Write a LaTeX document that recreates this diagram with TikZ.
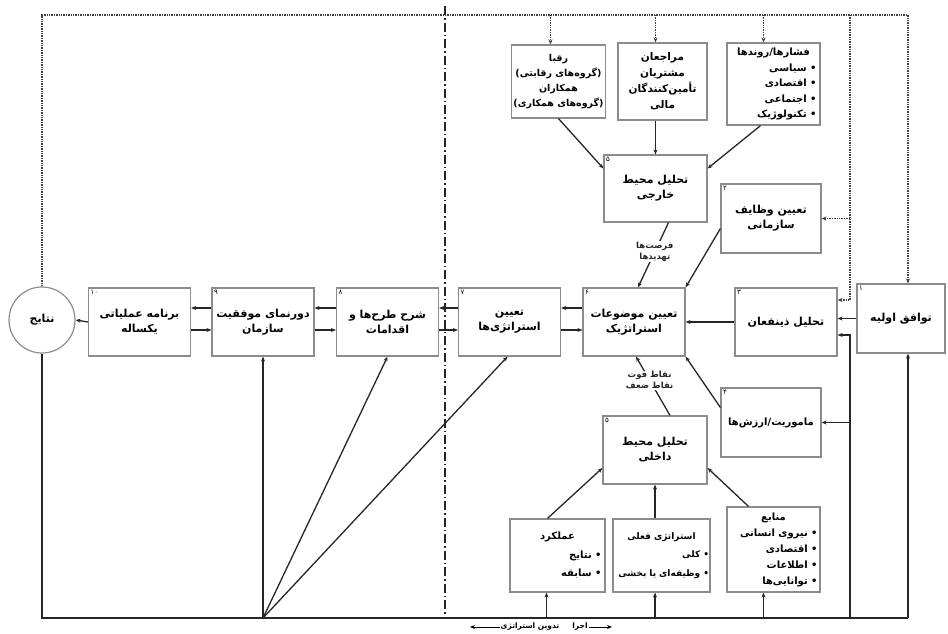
\documentclass[tikz,border=0pt]{standalone}
\usepackage{fontspec}
\newfontfamily\fa[Script=Arabic]{DejaVu Sans}
\TeXXeTstate=1
\newcommand{\rl}[1]{\beginR #1\endR}
\newcommand{\hd}[1]{\makebox[\linewidth]{\rl{#1}}}
\usetikzlibrary{arrows.meta}

\begin{document}
\begin{tikzpicture}[x=1pt,y=-1pt,
  box/.style={draw=black!45, line width=1.2pt, fill=white, align=center,
    minimum width=102pt, minimum height=68pt, inner sep=2pt,
    font=\fa\bfseries\fontsize{11}{15}\selectfont},
  lst/.style={box, align=right, text width=#1,
    font=\fa\bfseries\fontsize{10}{18.5}\selectfont},
  nr/.style={label={[font=\fa\fontsize{7}{8}\selectfont, inner sep=2.5pt,
    anchor=north west]north west:#1}},
  lab/.style={fill=white, inner sep=1pt, align=center,
    font=\fa\bfseries\fontsize{8.5}{10.5}\selectfont},
  fb/.style={densely dotted, line width=1.4pt, black!75},
  ln/.style={line width=1.3pt, black!85},
  >={Stealth[length=5pt,width=4pt]}]

\useasboundingbox (0,0) rectangle (948,633);

% main row, right to left
\node [circle, draw=black!45, line width=1.2pt, minimum size=66pt,
  font=\fa\bfseries\fontsize{11}{15}\selectfont] (res) at (42,320) {\rl{نتایج}};
\node [box, nr=۱۰] (plan) at (139.5,322) {\rl{برنامه عملیاتی}\\\rl{یکساله}};
\node [box, nr=۹] (vision) at (263,322) {\rl{دورنمای موفقیت}\\\rl{سازمان}};
\node [box, nr=۸] (actions) at (387.5,322) {\rl{شرح طرح‌ها و}\\\rl{اقدامات}};
\node [box, nr=۷] (strat) at (509.5,322) {\rl{تعیین}\\\rl{استراتژی‌ها}};
\node [box, nr=۶] (issues) at (634,322) {\rl{تعیین موضوعات}\\\rl{استراتژیک}};
\node [box, nr=۳] (stake) at (786,322) {\rl{تحلیل ذینفعان}};
\node [box, nr=۱, minimum width=88pt, minimum height=69pt] (agree) at (901,318.5) {\rl{توافق اولیه}};
\node [box, nr=۲, minimum width=100pt, minimum height=69pt] (mand) at (771,218.5) {\rl{تعیین وظایف}\\\rl{سازمانی}};
\node [box, nr=۴, minimum width=100pt, minimum height=69pt,
  font=\fa\bfseries\fontsize{10}{15}\selectfont] (miss) at (771,422.5) {\rl{ماموریت/ارزش‌ها}};

% environment
\node [box, nr=۵, minimum width=103pt, minimum height=67pt] (ext) at (655.5,188.5) {\rl{تحلیل محیط}\\\rl{خارجی}};
\node [box, nr=۵, minimum width=104pt] (int) at (655,450) {\rl{تحلیل محیط}\\\rl{داخلی}};

\node [box, minimum width=93pt, minimum height=73pt,
  font=\fa\bfseries\fontsize{9.5}{15}\selectfont] (rivals) at (558.5,81.5)
  {\rl{رقبا}\\\rl{(گروه‌های رقابتی)}\\\rl{همکاران}\\\rl{(گروه‌های همکاری)}};
\node [box, minimum width=89pt, minimum height=77pt,
  font=\fa\bfseries\fontsize{10.5}{16}\selectfont] (clients) at (662.5,81.5)
  {\rl{مراجعان}\\\rl{مشتریان}\\\rl{تأمین‌کنندگان}\\\rl{مالی}};
\node [lst=86pt, minimum width=93pt, minimum height=82pt,
  font=\fa\bfseries\fontsize{10}{15.5}\selectfont] (trends) at (773.5,84)
  {\hd{فشارها/روندها}\\\rl{• سیاسی}\\\rl{• اقتصادی}\\\rl{• اجتماعی}\\\rl{• تکنولوژیک}};

\node [lst=88pt, minimum width=95pt, minimum height=73pt] (perf) at (557.5,555.5)
  {\hd{عملکرد}\\\rl{• نتایج}\\\rl{• سابقه}};
\node [lst=95pt, minimum width=97pt, minimum height=73pt, inner sep=1pt,
  font=\fa\bfseries\fontsize{9}{18.5}\selectfont] (cur) at (661.5,555.5)
  {\hd{استراتژی فعلی}\\\rl{• کلی}\\\rl{• وظیفه‌ای یا بخشی}};
\node [lst=88pt, minimum width=93pt, minimum height=85pt,
  font=\fa\bfseries\fontsize{10}{16}\selectfont] (reso) at (773.5,549.5)
  {\hd{منابع}\\\rl{• نیروی انسانی}\\\rl{• اقتصادی}\\\rl{• اطلاعات}\\\rl{• توانایی‌ها}};

% divider between formulation and implementation
\draw [black!85, line width=1.4pt, dash pattern=on 9pt off 3pt on 1.5pt off 3pt] (445,6) -- (445,614);

% feedback along the top
\coordinate (tl) at (42,15);
\coordinate (tr) at (908,15);
\coordinate (tm) at (850,15);
\draw [fb,->] (res.north) -- (tl) -- (tr) -- (tr |- agree.north);
\draw [fb,->] ([xshift=-8pt]rivals.north |- tl) -- ([xshift=-8pt]rivals.north);
\draw [fb,->] ([xshift=-7pt]clients.north |- tl) -- ([xshift=-7pt]clients.north);
\draw [fb,->] ([xshift=-10pt]trends.north |- tl) -- ([xshift=-10pt]trends.north);
\draw [fb,->] (tm) |- ([yshift=22pt]stake.east);
\draw [fb,->] (tm |- mand.east) -- (mand.east);

% inputs along the bottom
\coordinate (bl) at (42,618);
\coordinate (br) at (908,618);
\coordinate (bf) at (263,618);
\coordinate (bm) at (850,618);
\draw [ln] (res.south) -- (bl) -- (br);
\draw [ln,->] (br) -- (br |- agree.south);
\draw [ln,->] (bf) -- (vision.south);
\draw [ln,->] (bf) -- (actions.south);
\draw [ln,->] (bf) -- ([xshift=-2pt]strat.south);
\draw [ln,->] ([xshift=-11pt]perf.south |- bl) -- ([xshift=-11pt]perf.south);
\draw [ln,->] (int.south |- bl) -- (int.south |- cur.south);
\draw [ln,->] ([xshift=-10pt]reso.south |- bl) -- ([xshift=-10pt]reso.south);
\draw [ln,->] (bm) |- ([yshift=-13pt]stake.east);
\draw [ln,->] (bm |- miss.east) -- (miss.east);

% the main flow
\foreach \a/\b in {issues/strat, strat/actions, actions/vision, vision/plan} {
  \draw [ln,->] ([yshift=14pt]\a.west) -- ([yshift=14pt]\b.east);
  \draw [ln,->] ([yshift=-8pt]\b.east) -- ([yshift=-8pt]\a.west);
}
\draw [ln,->] (plan.west) -- (res.east);
\draw [ln,->] (agree.west) -- (agree.west -| stake.east);
\draw [ln,->] (stake.west) -- (issues.east);
\draw [ln,->] ([yshift=-10pt]mand.west) -- (issues.north east);
\draw [ln,->] ([yshift=15pt]miss.west) -- (issues.south east);

% SWOT
\draw [ln,->] (rivals.south) -- ([yshift=20pt]ext.west);
\draw [ln,->] (ext.north |- clients.south) -- (ext.north);
\draw [ln,->] ([xshift=-13pt]trends.south) -- ([yshift=20pt]ext.east);
\draw [ln,->] ([xshift=13pt]ext.south) -- node [lab, pos=0.45] (ot) {\rl{فرصت‌ها}\\\rl{تهدیدها}} ([xshift=4pt]issues.north);
\draw [ln,->] ([xshift=15pt]int.north) -- node [lab, pos=0.6] (sw) {\rl{نقاط قوت}\\\rl{نقاط ضعف}} ([xshift=2pt]issues.south);
\draw [ln,->] ([xshift=-10pt]perf.north) -- ([yshift=-18pt]int.west);
\draw [ln,->] (int.south |- cur.north) -- (int.south);
\draw [ln,->] ([xshift=-25pt]reso.north) -- ([yshift=-18pt]int.east);

% phases
\node [lab, font=\fa\bfseries\fontsize{7.5}{9}\selectfont] (form) at (530,627) {\rl{تدوین استراتژی}};
\node [lab, font=\fa\bfseries\fontsize{7.5}{9}\selectfont] (impl) at (580,627) {\rl{اجرا}};
\coordinate (fe) at (470,627);
\coordinate (ie) at (612,627);
\draw [line width=0.7pt,->] (form.west) -- (fe);
\draw [line width=0.7pt,->] (impl.east) -- (ie);
\end{tikzpicture}
\end{document}
